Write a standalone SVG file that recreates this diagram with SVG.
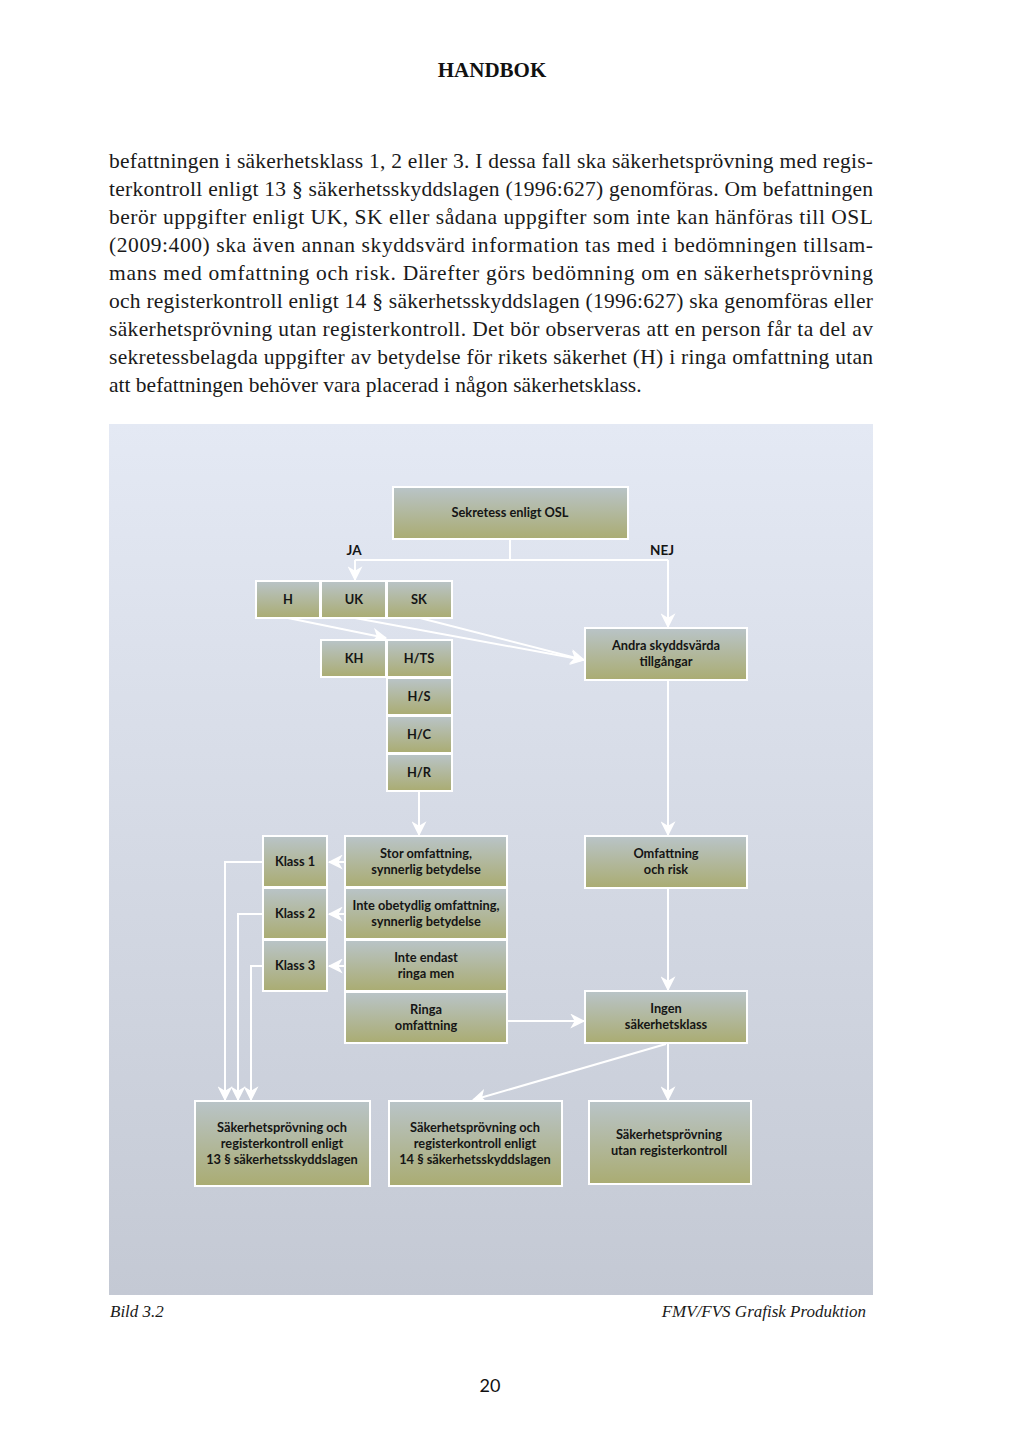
<svg xmlns="http://www.w3.org/2000/svg" width="1024" height="1448" viewBox="0 0 1024 1448">
<defs>
<linearGradient id="bg" x1="0" y1="0" x2="0" y2="1">
<stop offset="0" stop-color="#e4e9f4"/>
<stop offset="1" stop-color="#c4c9d4"/>
</linearGradient>
<linearGradient id="box" x1="0" y1="0" x2="0" y2="1">
<stop offset="0" stop-color="#b9c4c8"/>
<stop offset="1" stop-color="#aaac72"/>
</linearGradient>
<marker id="ah" viewBox="0 0 12 12" refX="11" refY="6" markerWidth="15" markerHeight="15" markerUnits="userSpaceOnUse" orient="auto">
<path d="M0,0 L12,6 L0,12 L3.5,6 z" fill="#ffffff"/>
</marker>
<style>
.node rect{fill:url(#box);stroke:#ffffff;stroke-width:2}
.node text{font-family:Lato,"Open Sans",sans-serif;font-weight:700;font-size:12.8px;fill:#151515;text-anchor:middle}
.lbl{font-family:Lato,"Open Sans",sans-serif;font-weight:700;font-size:13.5px;fill:#151515;text-anchor:middle}
.conn path{fill:none;stroke:#ffffff;stroke-width:2}
.arr{marker-end:url(#ah)}
.body{font-family:"Liberation Serif",serif;font-size:21.5px;fill:#1a1a1a}
.cap{font-family:"Liberation Serif",serif;font-style:italic;font-size:17px;fill:#1a1a1a}
</style>
</defs>
<rect width="1024" height="1448" fill="#ffffff"/>
<text x="492" y="77" text-anchor="middle" font-family="Liberation Serif,serif" font-weight="700" font-size="21" fill="#111">HANDBOK</text>
<g class="body">
<text x="109" y="168" textLength="764" lengthAdjust="spacing">befattningen i säkerhetsklass 1, 2 eller 3. I dessa fall ska säkerhetsprövning med regis-</text>
<text x="109" y="196" textLength="764" lengthAdjust="spacing">terkontroll enligt 13 § säkerhetsskyddslagen (1996:627) genomföras. Om befattningen</text>
<text x="109" y="224" textLength="764" lengthAdjust="spacing">berör uppgifter enligt UK, SK eller sådana uppgifter som inte kan hänföras till OSL</text>
<text x="109" y="252" textLength="764" lengthAdjust="spacing">(2009:400) ska även annan skyddsvärd information tas med i bedömningen tillsam-</text>
<text x="109" y="280" textLength="764" lengthAdjust="spacing">mans med omfattning och risk. Därefter görs bedömning om en säkerhetsprövning</text>
<text x="109" y="308" textLength="764" lengthAdjust="spacing">och registerkontroll enligt 14 § säkerhetsskyddslagen (1996:627) ska genomföras eller</text>
<text x="109" y="336" textLength="764" lengthAdjust="spacing">säkerhetsprövning utan registerkontroll. Det bör observeras att en person får ta del av</text>
<text x="109" y="364" textLength="764" lengthAdjust="spacing">sekretessbelagda uppgifter av betydelse för rikets säkerhet (H) i ringa omfattning utan</text>
<text x="109" y="392">att befattningen behöver vara placerad i någon säkerhetsklass.</text>
</g>
<rect x="109" y="424" width="764" height="871" fill="url(#bg)"/>

<g class="conn">
<path d="M510,539 V560"/>
<path d="M355,560 H668"/>
<path class="arr" d="M355,560 V580"/>
<path class="arr" d="M668,560 V627"/>
<path class="arr" d="M288,618 L386,638"/>
<path class="arr" d="M355,618 L584,660"/>
<path class="arr" d="M420,618 L584,660"/>
<path class="arr" d="M419,791 V835"/>
<path class="arr" d="M668,680 V835"/>
<path class="arr" d="M668,888 V990"/>
<path class="arr" d="M345,862 H329"/>
<path class="arr" d="M345,914 H329"/>
<path class="arr" d="M345,966 H329"/>
<path class="arr" d="M507,1021 H584"/>
<path class="arr" d="M263,862 H225 V1100"/>
<path class="arr" d="M263,914 H238 V1100"/>
<path class="arr" d="M263,966 H251 V1100"/>
<path class="arr" d="M668,1043 V1100"/>
<path class="arr" d="M666,1044 L473,1100"/>
</g>
<text class="lbl" x="354" y="555">JA</text>
<text class="lbl" x="662" y="555">NEJ</text>

<g id="n-sekretess" class="node"><rect x="393" y="487" width="235" height="52"/><text x="510" y="517">Sekretess enligt OSL</text></g>
<g id="n-h" class="node"><rect x="256" y="581" width="64" height="37"/><text x="288" y="604">H</text></g>
<g id="n-uk" class="node"><rect x="321" y="581" width="65" height="37"/><text x="354" y="604">UK</text></g>
<g id="n-sk" class="node"><rect x="387" y="581" width="65" height="37"/><text x="419" y="604">SK</text></g>
<g id="n-kh" class="node"><rect x="321" y="640" width="65" height="37"/><text x="354" y="663">KH</text></g>
<g id="n-hts" class="node"><rect x="387" y="640" width="65" height="37"/><text x="419" y="663">H/TS</text></g>
<g id="n-hs" class="node"><rect x="387" y="678" width="65" height="37"/><text x="419" y="701">H/S</text></g>
<g id="n-hc" class="node"><rect x="387" y="716" width="65" height="37"/><text x="419" y="739">H/C</text></g>
<g id="n-hr" class="node"><rect x="387" y="754" width="65" height="37"/><text x="419" y="777">H/R</text></g>
<g id="n-andra" class="node"><rect x="585" y="628" width="162" height="52"/><text x="666" y="650">Andra skyddsvärda</text><text x="666" y="666">tillgångar</text></g>
<g id="n-omf" class="node"><rect x="585" y="836" width="162" height="52"/><text x="666" y="858">Omfattning</text><text x="666" y="874">och risk</text></g>
<g id="n-ingen" class="node"><rect x="585" y="991" width="162" height="52"/><text x="666" y="1013">Ingen</text><text x="666" y="1029">säkerhetsklass</text></g>
<g id="n-stor" class="node"><rect x="345" y="836" width="162" height="51"/><text x="426" y="858">Stor omfattning,</text><text x="426" y="874">synnerlig betydelse</text></g>
<g id="n-inteobet" class="node"><rect x="345" y="888" width="162" height="51"/><text x="426" y="910">Inte obetydlig omfattning,</text><text x="426" y="926">synnerlig betydelse</text></g>
<g id="n-inteend" class="node"><rect x="345" y="940" width="162" height="51"/><text x="426" y="962">Inte endast</text><text x="426" y="978">ringa men</text></g>
<g id="n-ringa" class="node"><rect x="345" y="992" width="162" height="51"/><text x="426" y="1014">Ringa</text><text x="426" y="1030">omfattning</text></g>
<g id="n-k1" class="node"><rect x="263" y="836" width="64" height="51"/><text x="295" y="866">Klass 1</text></g>
<g id="n-k2" class="node"><rect x="263" y="888" width="64" height="51"/><text x="295" y="918">Klass 2</text></g>
<g id="n-k3" class="node"><rect x="263" y="940" width="64" height="51"/><text x="295" y="970">Klass 3</text></g>
<g id="n-b13" class="node"><rect x="195" y="1101" width="175" height="85"/><text x="282" y="1132">Säkerhetsprövning och</text><text x="282" y="1148">registerkontroll enligt</text><text x="282" y="1164">13 § säkerhetsskyddslagen</text></g>
<g id="n-b14" class="node"><rect x="389" y="1101" width="173" height="85"/><text x="475" y="1132">Säkerhetsprövning och</text><text x="475" y="1148">registerkontroll enligt</text><text x="475" y="1164">14 § säkerhetsskyddslagen</text></g>
<g id="n-butan" class="node"><rect x="589" y="1101" width="162" height="83"/><text x="669" y="1139">Säkerhetsprövning</text><text x="669" y="1155">utan registerkontroll</text></g>

<text class="cap" x="110" y="1317">Bild 3.2</text>
<text class="cap" x="866" y="1317" text-anchor="end">FMV/FVS Grafisk Produktion</text>
<text x="490" y="1392" text-anchor="middle" font-family="Lato,'Open Sans',sans-serif" font-size="18" fill="#111">20</text>
</svg>
